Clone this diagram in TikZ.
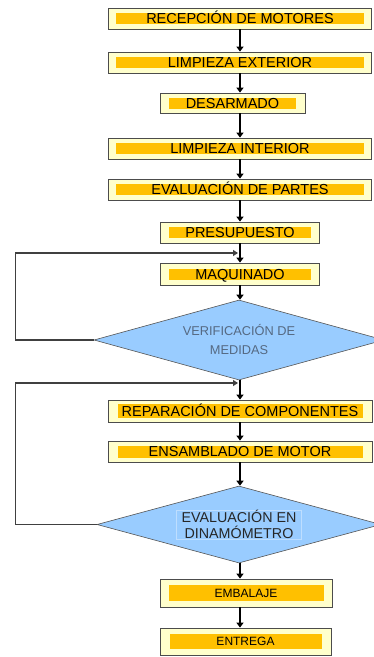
\documentclass[tikz,border=0pt]{standalone}
\usepackage{fontspec}
\setmainfont{Liberation Sans}
\usepackage{xcolor}
\definecolor{boxfill}{RGB}{255,255,204}
\definecolor{barfill}{RGB}{255,192,0}
\definecolor{decfill}{RGB}{153,204,255}
\definecolor{decline}{RGB}{85,85,85}
\definecolor{dectext}{RGB}{85,105,130}
\definecolor{frameline}{RGB}{190,222,255}
\usetikzlibrary{arrows.meta, shapes.geometric, shadows}

\tikzset{
  procbox/.style={draw=black!70, fill=boxfill, line width=0.8pt, inner sep=0pt,
    drop shadow={shadow xshift=0.9pt, shadow yshift=-0.9pt, fill=black!75, opacity=1}},
  procbar/.style={fill=barfill, inner sep=0pt, text height=10pt, text depth=0pt,
    font=\fontsize{14.5}{16}\selectfont},
  decision/.style={diamond, draw=decline, fill=decfill, line width=0.6pt,
    inner sep=0pt, aspect=3.6},
  flow/.style={line width=2pt, -{Triangle[length=5pt,width=7pt]}},
  loopback/.style={draw=black!75, line width=1.4pt, -{Triangle[length=5pt,width=6pt]}}
}

\begin{document}
\begin{tikzpicture}[x=1pt, y=-1pt]
\useasboundingbox (0,0) rectangle (374,657);
\coordinate (spine) at (240,0);

% Steps before the measurements
\node[procbox, minimum width=263, minimum height=21] (recep) at (240,18.5) {};
\node[procbar, minimum width=248, minimum height=11] (recepbar) at (recep) {RECEPCIÓN DE MOTORES};

\node[procbox, minimum width=263, minimum height=21] (limext) at (240,62.5) {};
\node[procbar, minimum width=248, minimum height=11] (limextbar) at (limext) {LIMPIEZA EXTERIOR};

\node[procbox, minimum width=145, minimum height=20] (desarm) at (232.5,103) {};
\node[procbar, minimum width=127, minimum height=11] (desarmbar) at (desarm) {DESARMADO};

\node[procbox, minimum width=263, minimum height=21] (limint) at (240,148.5) {};
\node[procbar, minimum width=248, minimum height=11] (limintbar) at (limint) {LIMPIEZA INTERIOR};

\node[procbox, minimum width=263, minimum height=21] (evalpart) at (240,189.5) {};
\node[procbar, minimum width=248, minimum height=11] (evalpartbar) at (evalpart) {EVALUACIÓN DE PARTES};

\node[procbox, minimum width=159, minimum height=21] (presup) at (240,232.5) {};
\node[procbar, minimum width=142, minimum height=11] (presupbar) at (presup) {PRESUPUESTO};

\node[procbox, minimum width=159, minimum height=22] (maquin) at (240,274) {};
\node[procbar, minimum width=142, minimum height=11] (maquinbar) at (maquin) {MAQUINADO};

% Decision 1
\node[decision, minimum width=290, minimum height=80, text=dectext, align=center,
      font=\fontsize{12.8}{19}\selectfont] (verif) at (239,340) {VERIFICACIÓN DE\\MEDIDAS};

% Repair and assembly
\node[procbox, minimum width=264, minimum height=22] (repar) at (240,411) {};
\node[procbar, minimum width=245, minimum height=14] (reparbar) at (repar) {REPARACIÓN DE COMPONENTES};

\node[procbox, minimum width=264, minimum height=21] (ensamb) at (240,451.5) {};
\node[procbar, minimum width=245, minimum height=12] (ensambbar) at (ensamb) {ENSAMBLADO DE MOTOR};

% Decision 2
\node[decision, minimum width=284, minimum height=77] (dina) at (239,524.5) {};
\node[draw=frameline, line width=0.5pt, minimum width=125, minimum height=27, inner sep=0pt,
      align=center, text=black!85, font=\fontsize{14.3}{16}\selectfont] (dinatext) at (dina) {EVALUACIÓN EN\\DINAMÓMETRO};

% Last steps
\node[procbox, minimum width=172, minimum height=28] (embal) at (246,593) {};
\node[procbar, minimum width=155, minimum height=16, text height=8.5pt,
      font=\fontsize{12}{13}\selectfont] (embalbar) at (embal) {EMBALAJE};

\node[procbox, minimum width=171, minimum height=27] (entrega) at (245.5,641.5) {};
\node[procbar, minimum width=152, minimum height=15, text height=8.5pt,
      font=\fontsize{12}{13}\selectfont] (entregabar) at (entrega) {ENTREGA};

% Main flow
\draw[flow] (recep.south) -- (limext.north);
\draw[flow] (limext.south) -- (limext.south |- desarm.north);
\draw[flow] (desarm.south -| spine) -- (limint.north);
\draw[flow] (limint.south) -- (evalpart.north);
\draw[flow] (evalpart.south) -- (presup.north);
\draw[flow] (presup.south) -- (maquin.north);
\draw[flow] (maquin.south) -- (maquin.south |- verif.north);
\draw[flow] (verif.south -| spine) -- (repar.north);
\draw[flow] (repar.south) -- (ensamb.north);
\draw[flow] (ensamb.south) -- (ensamb.south |- dina.north);
\draw[flow] (dina.south -| spine) -- (embal.north -| spine);
\draw[flow] (embal.south -| spine) -- (entrega.north -| spine);

% Feedback loops
\coordinate (join1) at (238,253);
\coordinate (join2) at (238,383);
\draw[loopback] (verif.west) -- ++(-78,0) |- (join1);
\draw[loopback] (dina.west) -- ++(-81,0) |- (join2);

\end{tikzpicture}
\end{document}
